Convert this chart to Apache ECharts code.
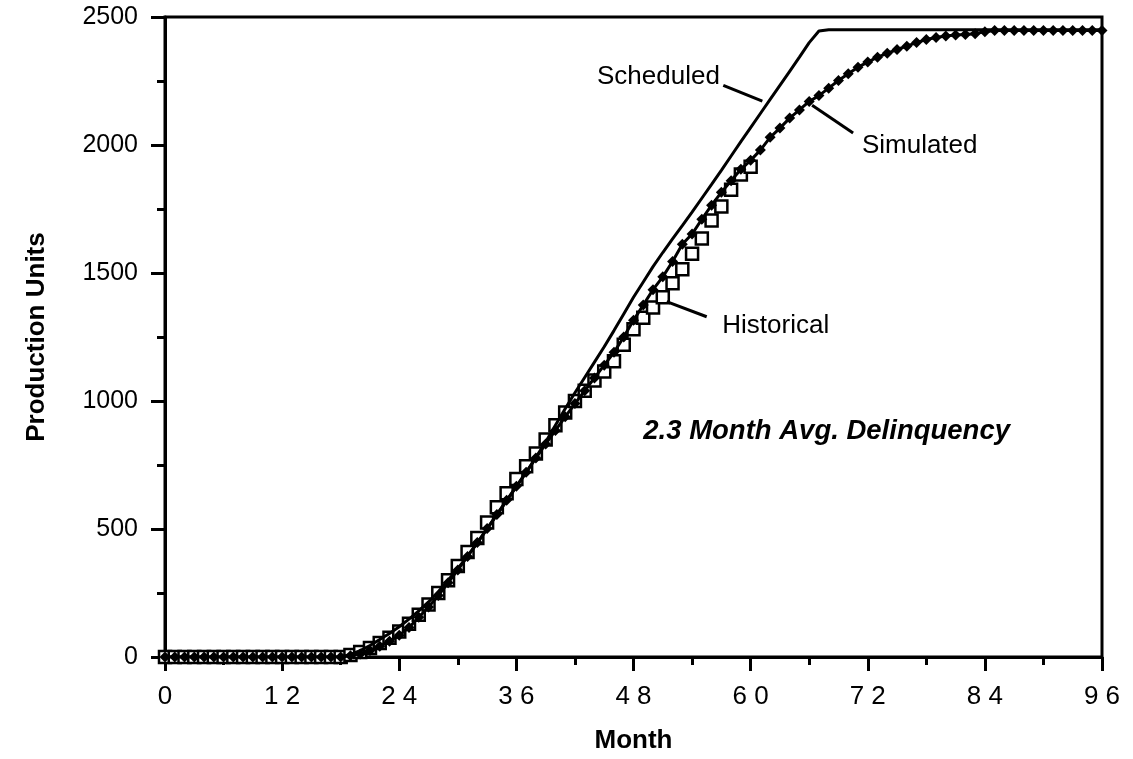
<!DOCTYPE html>
<html>
<head>
<meta charset="utf-8">
<script src="https://cdn.jsdelivr.net/npm/echarts@6/dist/echarts.min.js"></script>
<style>
html,body{margin:0;padding:0;background:#fff;}
#c{width:1133px;height:759px;}
</style>
</head>
<body>
<div id="c"></div>
<script>
// ---- data ----
const months = [0,1,2,3,4,5,6,7,8,9,10,11,12,13,14,15,16,17,18,19,20,21,22,23,24,25,26,27,28,29,30,31,32,33,34,35,36,37,38,39,40,41,42,43,44,45,46,47,48,49,50,51,52,53,54,55,56,57,58,59,60,61,62,63,64,65,66,67,68,69,70,71,72,73,74,75,76,77,78,79,80,81,82,83,84,85,86,87,88,89,90,91,92,93,94,95,96];

const scheduled = [0,0,0,0,0,0,0,0,0,0,0,0,0,0,0,0,0,0,0,
  10,25,45,68,92,118,148,180,215,255,300,345,395,445,500,555,610,665,720,780,840,905,970,1032,1092,1152,1212,1275,1340,1405,1465,1525,1580,1633,1685,1738,1792,1846,1901,1957,2013,2068,2123,2178,2233,2288,2343,2400,2445,
  2450,2450,2450,2450,2450,2450,2450,2450,2450,2450,2450,2450,2450,2450,2450,2450,2450,2450,2450,2450,2450,2450,2450,2450,2450,2450,2450,2450,2450];

const simulated = [0,0,0,0,0,0,0,0,0,0,0,0,0,0,0,0,0,0,0,
  5,12,25,42,62,85,115,155,195,240,290,340,393,447,502,557,612,667,722,777,832,885,938,990,1040,1090,1140,1190,1250,1315,1375,1435,1485,1545,1612,1652,1710,1765,1815,1860,1905,1940,1980,2030,2066,2105,2137,2170,2193,2222,2252,2278,2304,2324,2343,2358,2373,2386,2400,2412,2420,2426,2430,2432,2435,2442,
  2447,2447,2447,2447,2447,2447,2447,2447,2447,2447,2447,2447];

const historical = [0,0,0,0,0,0,0,0,0,0,0,0,0,0,0,0,0,0,0,
  8,20,35,55,75,100,130,165,205,250,300,355,410,465,525,585,640,695,745,795,850,905,955,1000,1040,1080,1115,1155,1220,1280,1325,1365,1405,1460,1515,1575,1635,1705,1760,1825,1885,1915];

const xTickValues = [0,12,24,36,48,60,72,84,96];
const yTickValues = [0,500,1000,1500,2000,2500];

const seriesLabels = ['Scheduled','Simulated','Historical'];
const noteText = '2.3 Month Avg. Delinquency';
const xTitle = 'Month';
const yTitle = 'Production Units';

// annotation anchors in data units [month, units]
const annScheduledText = [56.85, 2265];
const annScheduledLine = [[57.2, 2233],[61.2, 2171]];
const annSimulatedText = [71.4, 1998];
const annSimulatedLine = [[66.3, 2155],[70.5, 2047]];
const annHistoricalText = [57.1, 1295];
const annHistoricalLine = [[51.4, 1388],[55.5, 1329]];
const annNote = [49.0, 880];

// ---- chart ----
const pair = (xs, ys) => ys.map((v,i)=>[xs[i], v]);
const FONT = "'Liberation Sans', Arial, Helvetica, sans-serif";

const chart = echarts.init(document.getElementById('c'), null, {renderer:'canvas'});
const option = {
  animation: false,
  backgroundColor: '#fff',
  grid: {left:165, right:31, top:17, bottom:96, show:true, borderColor:'#000', borderWidth:3, backgroundColor:'transparent'},
  xAxis: {
    type:'value', min:0, max:96, interval:12,
    name: xTitle, nameLocation:'middle', nameGap:71, nameMoveOverlap:false,
    nameTextStyle:{fontFamily:FONT, fontSize:26, fontWeight:'bold', color:'#000'},
    axisLine:{show:true, onZero:false, lineStyle:{color:'#000', width:3}},
    axisTick:{show:true, inside:false, length:14, lineStyle:{color:'#000', width:3}},
    minorTick:{show:true, splitNumber:2, length:8, lineStyle:{color:'#000', width:3}},
    splitLine:{show:false},
    axisLabel:{margin:27, fontFamily:FONT, fontSize:26, color:'#000',
      formatter:(v)=> xTickValues.includes(v) ? String(v).split('').join(' ') : ''}
  },
  yAxis: {
    type:'value', min:0, max:2500, interval:500,
    name: yTitle, nameLocation:'middle', nameGap:115, nameRotate:90, nameMoveOverlap:false,
    nameTextStyle:{fontFamily:FONT, fontSize:26, fontWeight:'bold', color:'#000'},
    axisLine:{show:true, onZero:false, lineStyle:{color:'#000', width:3}},
    axisTick:{show:true, inside:false, length:14, lineStyle:{color:'#000', width:3}},
    minorTick:{show:true, splitNumber:2, length:8, lineStyle:{color:'#000', width:3}},
    splitLine:{show:false},
    axisLabel:{margin:27, fontFamily:FONT, fontSize:25, color:'#000',
      formatter:(v)=> yTickValues.includes(v) ? String(v) : ''}
  },
  series: [
    {
      name: seriesLabels[2], type:'line', data: pair(months, historical),
      lineStyle:{width:0, opacity:0}, symbol:'rect', symbolSize:12, showAllSymbol:true,
      itemStyle:{color:'#fff', borderColor:'#000', borderWidth:2.5}, z:2
    },
    {
      name: seriesLabels[0], type:'line', data: pair(months, scheduled),
      showSymbol:false, symbol:'none', lineStyle:{color:'#000', width:3}, z:3
    },
    {
      name: seriesLabels[1], type:'line', data: pair(months, simulated),
      symbol:'diamond', symbolSize:11, showAllSymbol:true,
      lineStyle:{color:'#000', width:3}, itemStyle:{color:'#000'}, z:4
    }
  ]
};
chart.setOption(option);

const P = (p) => chart.convertToPixel({gridIndex:0}, p);
const txt = (p, text, align, extra) => {
  const q = P(p);
  return Object.assign({type:'text', x:q[0], y:q[1], z:100,
    style:Object.assign({text:text, fill:'#000', fontFamily:FONT, fontSize:26, align:align, verticalAlign:'middle'}, extra||{})});
};
const ln = (a) => {
  const p1 = P(a[0]), p2 = P(a[1]);
  return {type:'line', z:100, shape:{x1:p1[0], y1:p1[1], x2:p2[0], y2:p2[1]}, style:{stroke:'#000', lineWidth:3}};
};
chart.setOption({graphic:[
  txt(annScheduledText, seriesLabels[0], 'right'),
  ln(annScheduledLine),
  txt(annSimulatedText, seriesLabels[1], 'left'),
  ln(annSimulatedLine),
  txt(annHistoricalText, seriesLabels[2], 'left'),
  ln(annHistoricalLine),
  txt(annNote, noteText, 'left', {fontWeight:'bold', fontStyle:'italic', fontSize:27.5})
]});
</script>
</body>
</html>
